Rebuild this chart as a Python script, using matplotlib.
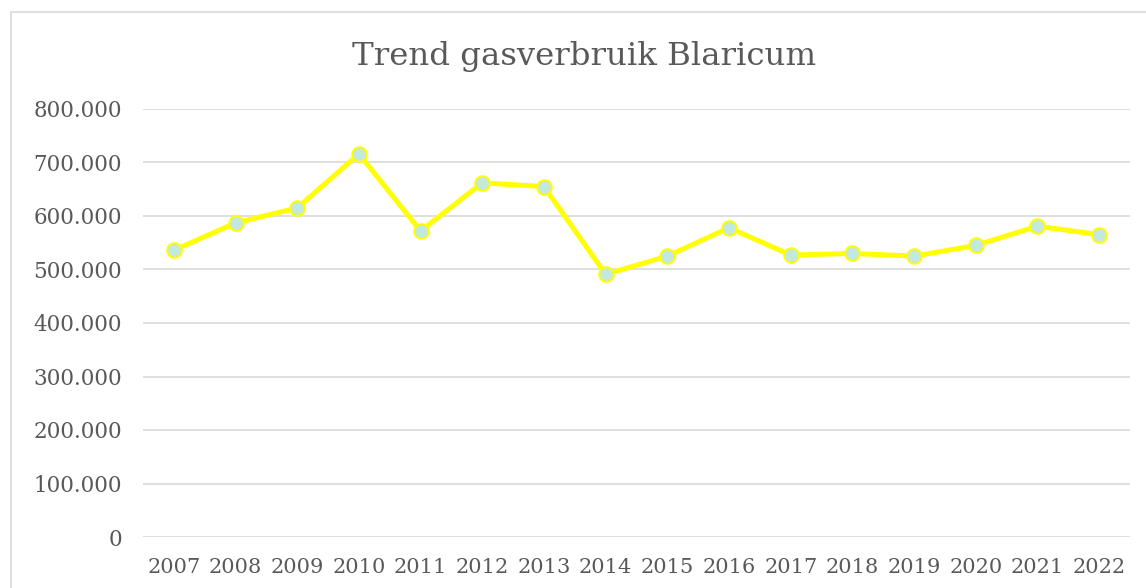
import matplotlib.pyplot as plt
from matplotlib.patches import Rectangle
from matplotlib.ticker import FuncFormatter, MultipleLocator

years = ['2007', '2008', '2009', '2010', '2011', '2012', '2013', '2014',
         '2015', '2016', '2017', '2018', '2019', '2020', '2021', '2022']
gasverbruik = [536000, 587000, 615000, 716000, 572000, 662000, 655000, 491000,
               525000, 578000, 527000, 530000, 525000, 545000, 581000, 565000]

text_color = '#595959'
grid_color = '#d9d9d9'

plt.rcParams['font.family'] = 'DejaVu Serif'

fig = plt.figure(figsize=(11.46, 5.88), dpi=100)
fig.patch.set_facecolor('white')

# chart border
fig.patches.append(Rectangle((11 / 1146, -0.05), 1.1, 1 - 12 / 588 + 0.05,
                             transform=fig.transFigure, fill=False,
                             edgecolor=grid_color, linewidth=1.2))

ax = fig.add_axes([143 / 1146, 1 - 537 / 588, (1130 - 143) / 1146, (537 - 109) / 588])

x = range(len(years))
ax.plot(x, gasverbruik, '-o', color='#ffff00', linewidth=3.6,
        markersize=10.5, markerfacecolor='#c3e9df', markeredgecolor='#ffff00',
        markeredgewidth=1.4, zorder=3)

ax.set_xlim(-0.5, len(years) - 0.5)
ax.set_ylim(0, 800000)
ax.set_xticks(list(x))
ax.set_xticklabels(years)
ax.yaxis.set_major_locator(MultipleLocator(100000))
ax.yaxis.set_major_formatter(FuncFormatter(lambda v, p: f'{int(v):,}'.replace(',', '.')))

ax.grid(axis='y', color=grid_color, linewidth=1.2, zorder=1)
ax.set_axisbelow(True)
for s in ax.spines.values():
    s.set_visible(False)
ax.tick_params(axis='both', length=0, colors=text_color)
ax.tick_params(axis='y', pad=15, labelsize=15.5)
ax.tick_params(axis='x', pad=15, labelsize=15)

fig.text(584 / 1146, 1 - 57 / 588, 'Trend gasverbruik Blaricum', ha='center', va='center',
         fontsize=23.3, color=text_color)

fig.savefig('out.png', dpi=100)
